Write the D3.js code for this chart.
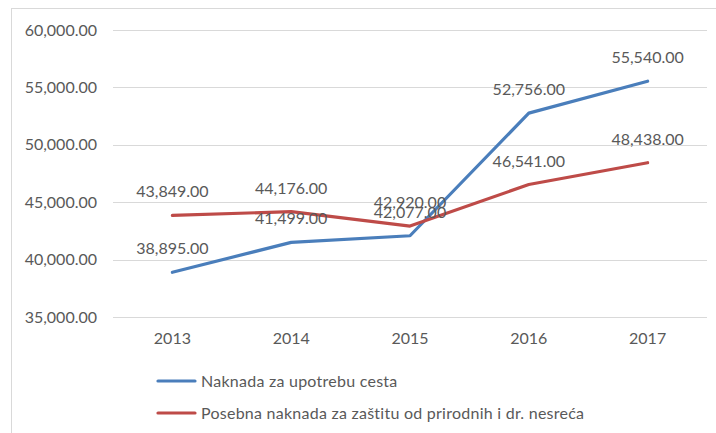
<!DOCTYPE html>
<html>
<head>
<meta charset="utf-8">
<script src="https://cdn.jsdelivr.net/npm/d3@7/dist/d3.min.js"></script>
<style>
  html, body { margin: 0; padding: 0; background: #fff; }
  svg { display: block; }
  text { font-family: Lato, "Open Sans", sans-serif; fill: #595959; }
</style>
</head>
<body>
<svg id="chart" width="716" height="433"></svg>
<script>
// Chart data
const years = ["2013", "2014", "2015", "2016", "2017"];
const roadFee = [38895, 41499, 42077, 52756, 55540];
const disasterFee = [43849, 44176, 42920, 46541, 48438];
const seriesNames = [
  "Naknada za upotrebu cesta",
  "Posebna naknada za zaštitu od prirodnih i dr. nesreća"
];
const seriesColors = ["#4a7ebb", "#be4b48"];
const yTicks = [35000, 40000, 45000, 50000, 55000, 60000];

const svg = d3.select("#chart");
const W = 716, H = 433;
const fontSize = 16;

// Outer frame of the chart area
svg.append("rect")
  .attr("x", 11.5).attr("y", 8.5)
  .attr("width", W + 10).attr("height", H + 10)
  .attr("fill", "#fff").attr("stroke", "#d9d9d9").attr("stroke-width", 1);

const plot = { left: 113, right: 707, top: 30, bottom: 317 };

const x = d3.scaleBand().domain(years).range([plot.left, plot.right]);
const y = d3.scaleLinear().domain([35000, 60000]).range([plot.bottom, plot.top]);
const fmt = d3.format(",.2f");

// Horizontal gridlines
svg.append("g")
  .selectAll("line")
  .data(yTicks)
  .join("line")
  .attr("x1", plot.left).attr("x2", plot.right)
  .attr("y1", d => Math.round(y(d)) + 0.5)
  .attr("y2", d => Math.round(y(d)) + 0.5)
  .attr("stroke", "#d9d9d9").attr("stroke-width", 1);

// Y axis labels
const yAxis = d3.axisLeft(y).tickValues(yTicks).tickFormat(fmt).tickSize(0).tickPadding(16);
const yg = svg.append("g").attr("transform", `translate(${plot.left},0)`).call(yAxis);
yg.select(".domain").remove();
yg.selectAll("text").style("font-size", fontSize + "px").attr("fill", "#595959")
  .style("font-family", "Lato, 'Open Sans', sans-serif");

// X axis labels
const xAxis = d3.axisBottom(x).tickSize(0).tickPadding(16);
const xg = svg.append("g").attr("transform", `translate(0,${plot.bottom})`).call(xAxis);
xg.select(".domain").remove();
xg.selectAll("text").style("font-size", fontSize + "px").attr("fill", "#595959")
  .style("font-family", "Lato, 'Open Sans', sans-serif");

const cx = d => x(d) + x.bandwidth() / 2;
const series = [roadFee, disasterFee];

const line = d3.line()
  .x((d, i) => cx(years[i]))
  .y(d => y(d));

// Lines
series.forEach((vals, s) => {
  svg.append("path")
    .datum(vals)
    .attr("d", line)
    .attr("fill", "none")
    .attr("stroke", seriesColors[s])
    .attr("stroke-width", 3.2)
    .attr("stroke-linejoin", "round")
    .attr("stroke-linecap", "round");
});

// Value labels above points
series.forEach((vals, s) => {
  svg.append("g")
    .selectAll("text")
    .data(vals)
    .join("text")
    .attr("x", (d, i) => cx(years[i]))
    .attr("y", d => y(d) - 18)
    .attr("text-anchor", "middle")
    .style("font-size", fontSize + "px")
    .text(d => fmt(d));
});

// Legend
const legend = svg.append("g");
seriesNames.forEach((name, s) => {
  const ly = 381 + s * 32;
  legend.append("line")
    .attr("x1", 158).attr("x2", 195)
    .attr("y1", ly).attr("y2", ly)
    .attr("stroke", seriesColors[s]).attr("stroke-width", 3.2)
    .attr("stroke-linecap", "round");
  legend.append("text")
    .attr("x", 201).attr("y", ly + 5.5)
    .style("font-size", fontSize + "px")
    .style("letter-spacing", "0.25px")
    .text(name);
});
</script>
</body>
</html>
